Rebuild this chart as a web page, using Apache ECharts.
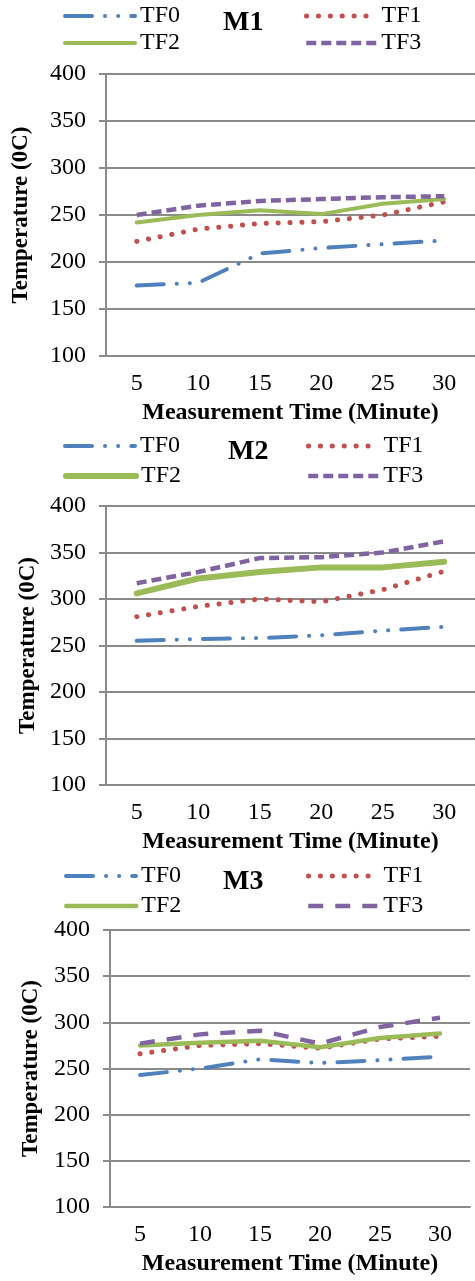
<!DOCTYPE html>
<html><head><meta charset="utf-8">
<script src="https://cdn.jsdelivr.net/npm/echarts@6/dist/echarts.min.js"></script>
<style>
html,body{margin:0;padding:0;background:#fff;width:475px;height:1281px;overflow:hidden}
.c{position:absolute;left:0;width:475px}
</style></head><body>
<div id="p1" class="c" style="top:0;height:430px"></div>
<div id="p2" class="c" style="top:430px;height:430px"></div>
<div id="p3" class="c" style="top:860px;height:421px"></div>
<script>
// ---- data ----
const minutes = ['5', '10', '15', '20', '25', '30'];
const seriesNames = ['TF0', 'TF1', 'TF2', 'TF3'];
const panelTitles = ['M1', 'M2', 'M3'];
const yMin = 100, yMax = 400, yStep = 50;
const xAxisTitle = 'Measurement Time (Minute)';
const yAxisTitle = 'Temperature (0C)';

const m1TF0 = [175, 178, 209, 215, 219, 223];
const m1TF1 = [222, 235, 241, 243, 250, 264];
const m1TF2 = [242, 250, 255, 251, 262, 267];
const m1TF3 = [250, 260, 265, 267, 269, 270];

const m2TF0 = [255, 257, 258, 261, 266, 270];
const m2TF1 = [281, 292, 300, 297, 310, 330];
const m2TF2 = [306, 322, 329, 334, 334, 340];
const m2TF3 = [317, 329, 344, 345, 350, 362];

const m3TF0 = [243, 250, 260, 256, 259, 263];
const m3TF1 = [266, 275, 277, 272, 282, 285];
const m3TF2 = [275, 278, 280, 273, 283, 288];
const m3TF3 = [277, 287, 291, 277, 295, 305];

// ---- styles ----
const colors = {TF0: '#4F81BD', TF1: '#C0504D', TF2: '#9BBB59', TF3: '#8064A2'};
const FONT = 'Liberation Serif, Times New Roman, serif';
const GRID_COLOR = '#8a8a8a';

function lineStyles(p) {
  return {
    TF0: {width: 4, type: [27, 13, 0.1, 13, 0.1, 13], cap: 'round'},
    TF1: {width: 5, type: [0.1, 11.8], cap: 'round'},
    TF2: {width: p === 1 ? 6 : (p === 2 ? 4.5 : 4), type: 'solid', cap: 'round'},
    TF3: {width: 4.5, type: p === 2 ? [15, 12] : [10, 5], cap: 'butt'}
  };
}

const layouts = [
  {h: 430, grid: {left: 106, right: -2, top: 74, bottom: 71}, yLabelMargin: 20, yNameGap: 73, xLabelMargin: 16, xNameGap: 39,
   legends: {TF0: [63, 16], TF2: [63, 43], TF1: [304, 16], TF3: [304, 43]}, title: [243, 24]},
  {h: 430, grid: {left: 106, right: -8, top: 76, bottom: 75}, yLabelMargin: 20, yNameGap: 64, xLabelMargin: 16, xNameGap: 45,
   legends: {TF0: [63, 16], TF2: [63, 46], TF1: [306, 16], TF3: [306, 46]}, title: [248, 23]},
  {h: 421, grid: {left: 110, right: 5, top: 70, bottom: 65}, yLabelMargin: 20, yNameGap: 67, xLabelMargin: 16, xNameGap: 42,
   legends: {TF0: [64, 16], TF2: [64, 46], TF1: [306, 16], TF3: [306, 46]}, title: [243, 23]}
];

const panelData = [
  {TF0: m1TF0, TF1: m1TF1, TF2: m1TF2, TF3: m1TF3},
  {TF0: m2TF0, TF1: m2TF1, TF2: m2TF2, TF3: m2TF3},
  {TF0: m3TF0, TF1: m3TF1, TF2: m3TF2, TF3: m3TF3}
];

function build(p) {
  const L = layouts[p];
  const ls = lineStyles(p);
  const legends = seriesNames.map(n => ({
    data: [n], left: L.legends[n][0], top: L.legends[n][1] - 12, padding: 0,
    itemWidth: 70, itemHeight: 14, itemGap: 0, selectedMode: false,
    textStyle: {fontFamily: FONT, fontSize: 24, color: '#000'},
    lineStyle: {width: ls[n].width},
    itemStyle: {opacity: 0}
  }));
  return {
    animation: false,
    title: {text: panelTitles[p], left: L.title[0] - 20, top: L.title[1] - 15, padding: 0,
      textStyle: {fontFamily: FONT, fontSize: 28, fontWeight: 'bold', color: '#000'}},
    legend: legends,
    grid: L.grid,
    xAxis: {
      type: 'category', data: minutes, boundaryGap: true,
      name: xAxisTitle, nameLocation: 'middle', nameGap: L.xNameGap,
      nameTextStyle: {fontFamily: FONT, fontSize: 24, fontWeight: 'bold', color: '#000'},
      axisLine: {show: true, lineStyle: {color: GRID_COLOR, width: 2}},
      axisTick: {show: false},
      axisLabel: {fontFamily: FONT, fontSize: 24, color: '#000', margin: L.xLabelMargin, interval: 0},
      splitLine: {show: false}
    },
    yAxis: {
      type: 'value', min: yMin, max: yMax, interval: yStep,
      name: yAxisTitle, nameLocation: 'middle', nameGap: L.yNameGap,
      nameTextStyle: {fontFamily: FONT, fontSize: 23, fontWeight: 'bold', color: '#000'},
      axisLine: {show: true, lineStyle: {color: GRID_COLOR, width: 2}},
      axisTick: {show: true, length: 7, lineStyle: {color: GRID_COLOR, width: 2}},
      axisLabel: {fontFamily: FONT, fontSize: 24, color: '#000', margin: L.yLabelMargin},
      splitLine: {show: true, lineStyle: {color: GRID_COLOR, width: 2}}
    },
    series: seriesNames.map(n => ({
      name: n, type: 'line', data: panelData[p][n], symbol: 'none', silent: true,
      lineStyle: {color: colors[n], width: ls[n].width, type: ls[n].type, cap: ls[n].cap, join: 'round'},
      itemStyle: {color: colors[n]},
      emphasis: {disabled: true}
    }))
  };
}

['p1', 'p2', 'p3'].forEach((id, i) => {
  const chart = echarts.init(document.getElementById(id), null, {renderer: 'canvas'});
  chart.setOption(build(i));
});
</script>
</body></html>
